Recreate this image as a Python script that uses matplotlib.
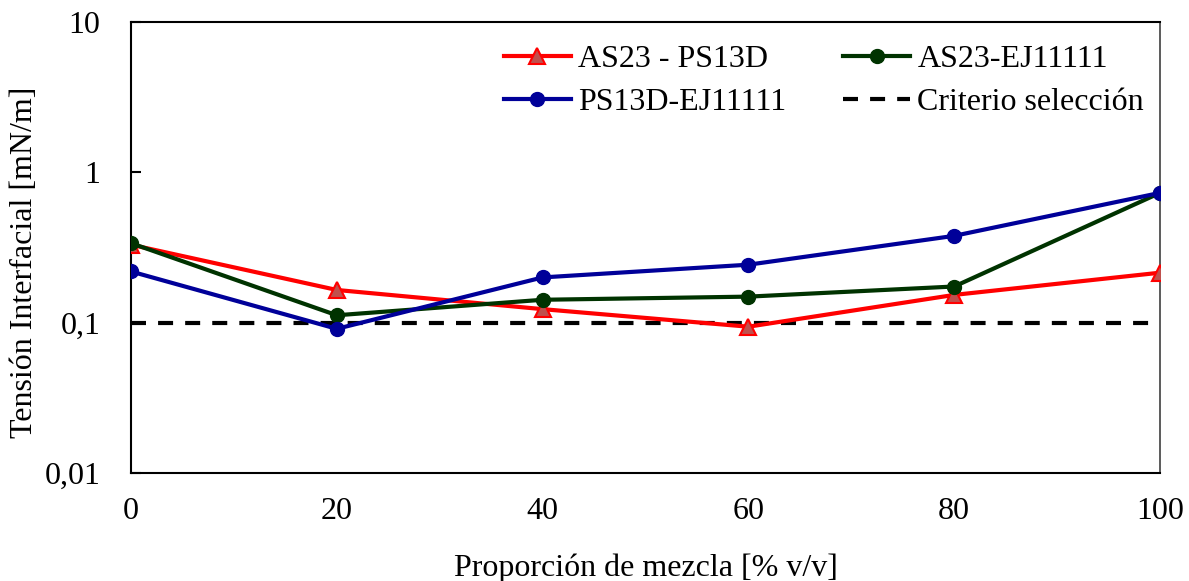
import matplotlib
matplotlib.use("Agg")
import matplotlib.pyplot as plt
from matplotlib.ticker import FixedLocator, FixedFormatter, NullLocator

x = [0, 20, 40, 60, 80, 100]
as23_ps13d = [0.33, 0.165, 0.123, 0.094, 0.153, 0.215]
as23_ej = [0.338, 0.112, 0.142, 0.149, 0.174, 0.73]
ps13d_ej = [0.219, 0.091, 0.20, 0.243, 0.378, 0.73]
criterio = 0.1
yticks = [0.01, 0.1, 1, 10]
ytick_labels = ["0,01", "0,1", "1", "10"]
xticks = [0, 20, 40, 60, 80, 100]

plt.rcParams['font.family'] = ['Liberation Serif', 'DejaVu Serif']
FS = 23
fig = plt.figure(figsize=(11.89, 5.81), dpi=100)
ax = fig.add_axes([131/1189, 1 - 473/581, (1160-131)/1189, (473-22)/581])

l1, = ax.plot(x, as23_ps13d, color='#FF0000', lw=3, marker='^', ms=11,
              markerfacecolor='#C0504D', markeredgecolor='#FF0000', markeredgewidth=1.5,
              label='AS23 - PS13D', zorder=3)
l2, = ax.plot(x, as23_ej, color='#003300', lw=3, marker='o', ms=10,
              label='AS23-EJ11111', zorder=4)
l3, = ax.plot(x, ps13d_ej, color='#000099', lw=3, marker='o', ms=10,
              label='PS13D-EJ11111', zorder=5)
l4, = ax.plot([x[0], x[-1]], [criterio, criterio], color='black', lw=3,
              ls=(0, (3.6, 2.9)), label='Criterio selección', zorder=2)

ax.set_yscale('log')
ax.set_ylim(0.01, 10)
ax.set_xlim(0, 100)
ax.yaxis.set_major_locator(FixedLocator(yticks))
ax.yaxis.set_major_formatter(FixedFormatter(ytick_labels))
ax.yaxis.set_minor_locator(NullLocator())
ax.set_xticks(xticks)
ax.set_xticklabels([str(v) for v in xticks])
ax.tick_params(axis='y', direction='in', length=7, width=1.5, labelsize=FS, pad=22)
ax.tick_params(axis='x', length=0, labelsize=FS, pad=17)
for s in ax.spines.values():
    s.set_linewidth(1.5)
    s.set_color('black')
ax.spines['right'].set_color('#404040')
ax.spines['right'].set_linewidth(1.2)

ax.set_ylabel('Tensión Interfacial [mN/m]', fontsize=FS)
ax.yaxis.set_label_coords(-0.089, 0.468)
ax.set_xlabel('Proporción de mezcla [% v/v]', fontsize=FS, labelpad=20)

leg = ax.legend(handles=[l1, l3, l2, l4], ncol=2, frameon=False, fontsize=FS,
                loc='upper right', bbox_to_anchor=(1.0, 1.0 - 7/451), handlelength=2.1,
                handletextpad=0.22, columnspacing=1.8, labelspacing=0.42,
                borderaxespad=0.2, borderpad=0.3)

fig.savefig('out.png', dpi=100)
